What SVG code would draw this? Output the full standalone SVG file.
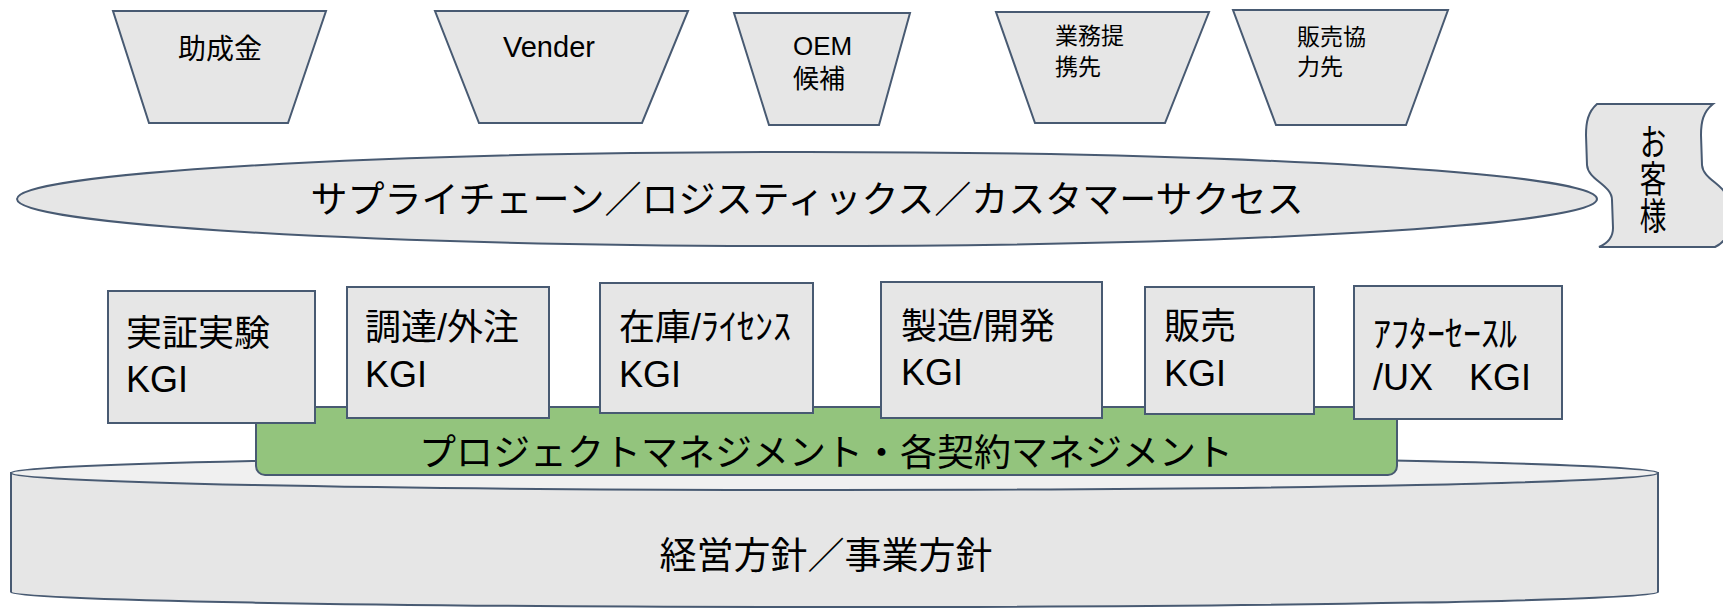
<svg xmlns="http://www.w3.org/2000/svg" width="1723" height="609" viewBox="0 0 1723 609">
<style>
.s{fill:#e6e6e6;stroke:#485a72;stroke-width:2}
.t{font-family:"Liberation Sans","Noto Sans CJK JP",sans-serif;fill:#000}
.j{font-family:"Noto Sans CJK JP","Liberation Sans",sans-serif;fill:#000}
</style>
<rect width="1723" height="609" fill="#fff"/>
<g id="cyl">
<path d="M11,473 L11,592 A823.5,15 0 0 0 1658,592 L1658,473 Z" fill="#e6e6e6" stroke="#485a72" stroke-width="2"/>
<ellipse cx="834.5" cy="473" rx="823.5" ry="17" fill="#f0f0f0" stroke="#485a72" stroke-width="2"/>
<text class="j" x="826" y="569" font-size="37" text-anchor="middle">経営方針／事業方針</text>
</g>
<g id="pm">
<rect x="256" y="407" width="1141" height="68" rx="9" fill="#93c47d" stroke="#485a72" stroke-width="2"/>
<text class="j" x="826" y="466" font-size="37" text-anchor="middle">プロジェクトマネジメント・各契約マネジメント</text>
</g>
<g id="supply">
<ellipse class="s" cx="807" cy="199" rx="790" ry="47"/>
<text class="j" x="807" y="213" font-size="37" text-anchor="middle">サプライチェーン／ロジスティックス／カスタマーサクセス</text>
</g>
<g id="customer">
<path class="s" d="M1597,104 L1713,104 C1703,112 1701,122 1701,135 L1702,165 C1703,180 1727,185 1727,200 L1728,228 C1728,238 1721,244 1715,247 L1599,247 C1606,244 1613,238 1613,228 L1612,200 C1612,185 1588,180 1587,165 L1586,135 C1586,122 1588,112 1597,104 Z"/>
<text class="j" x="1653" y="123" font-size="37" writing-mode="vertical-rl" transform="translate(1653,0) scale(0.72,1) translate(-1653,0)">お客様</text>
</g>
<g id="n1">
<polygon class="s" points="113,11 326,11 288,123 149,123"/>
<text class="t" x="178" y="59" font-size="28">助成金</text>
</g>
<g id="n2">
<polygon class="s" points="435,11 688,11 642,123 479,123"/>
<text class="t" x="503" y="57" font-size="29">Vender</text>
</g>
<g id="n3">
<polygon class="s" points="734,13 910,13 879,125 769,125"/>
<text class="t" font-size="26"><tspan x="793" y="55">OEM</tspan><tspan x="793" y="88">候補</tspan></text>
</g>
<g id="n4">
<polygon class="s" points="996,12 1209,12 1165,123 1035,123"/>
<text class="t" font-size="23"><tspan x="1055" y="44">業務提</tspan><tspan x="1055" y="75">携先</tspan></text>
</g>
<g id="n5">
<polygon class="s" points="1233,10 1448,10 1406,125 1276,125"/>
<text class="t" font-size="23"><tspan x="1297" y="45">販売協</tspan><tspan x="1297" y="75">力先</tspan></text>
</g>
<g id="k1">
<rect class="s" x="108" y="291" width="207" height="132"/>
<text class="t" font-size="36"><tspan x="126" y="346">実証実験</tspan><tspan x="126" y="392">KGI</tspan></text>
</g>
<g id="k2">
<rect class="s" x="347" y="287" width="202" height="131"/>
<text class="t" font-size="36"><tspan x="365" y="340">調達/外注</tspan><tspan x="365" y="387">KGI</tspan></text>
</g>
<g id="k3">
<rect class="s" x="600" y="283" width="213" height="130"/>
<text class="t" font-size="36"><tspan x="619" y="340">在庫/ﾗｲｾﾝｽ</tspan><tspan x="619" y="387">KGI</tspan></text>
</g>
<g id="k4">
<rect class="s" x="881" y="282" width="221" height="136"/>
<text class="t" font-size="36"><tspan x="901" y="339">製造/開発</tspan><tspan x="901" y="385">KGI</tspan></text>
</g>
<g id="k5">
<rect class="s" x="1145" y="287" width="169" height="127"/>
<text class="t" font-size="36"><tspan x="1164" y="339">販売</tspan><tspan x="1164" y="386">KGI</tspan></text>
</g>
<g id="k6">
<rect class="s" x="1354" y="286" width="208" height="133"/>
<text class="t" font-size="36"><tspan x="1373" y="347">ｱﾌﾀｰｾｰｽﾙ</tspan><tspan x="1373" y="390">/UX　KGI</tspan></text>
</g>
<g id="connectors"></g>
</svg>
